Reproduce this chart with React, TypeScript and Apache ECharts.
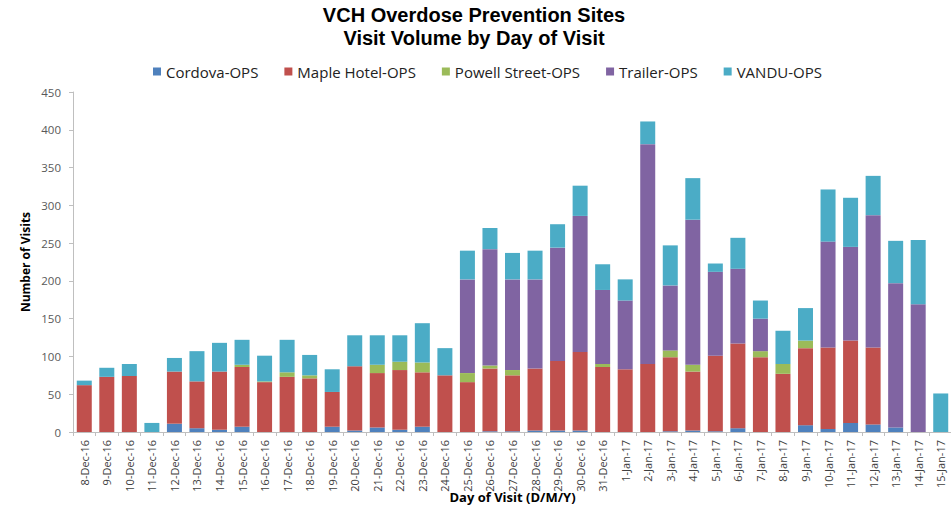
import React, { useEffect, useRef } from "react";
import * as echarts from "echarts";

const categories = [
  "8-Dec-16", "9-Dec-16", "10-Dec-16", "11-Dec-16", "12-Dec-16", "13-Dec-16", "14-Dec-16",
  "15-Dec-16", "16-Dec-16", "17-Dec-16", "18-Dec-16", "19-Dec-16", "20-Dec-16", "21-Dec-16",
  "22-Dec-16", "23-Dec-16", "24-Dec-16", "25-Dec-16", "26-Dec-16", "27-Dec-16", "28-Dec-16",
  "29-Dec-16", "30-Dec-16", "31-Dec-16", "1-Jan-17", "2-Jan-17", "3-Jan-17", "4-Jan-17",
  "5-Jan-17", "6-Jan-17", "7-Jan-17", "8-Jan-17", "9-Jan-17", "10-Jan-17", "11-Jan-17",
  "12-Jan-17", "13-Jan-17", "14-Jan-17", "15-Jan-17",
];

const cordova = [0, 0, 0, 0, 11, 5, 3, 7, 0, 0, 0, 7, 2, 6, 3, 7, 0, 0, 1, 1, 2, 2, 2, 0, 0, 0, 1, 2, 1, 5, 0, 0, 9, 4, 12, 10, 6, 0, 0];
const maple = [62, 73, 74, 0, 69, 62, 77, 79, 66, 73, 71, 46, 85, 72, 79, 72, 75, 66, 83, 74, 82, 92, 104, 86, 83, 90, 98, 78, 100, 112, 99, 77, 102, 108, 109, 102, 0, 0, 0];
const powell = [0, 0, 0, 0, 0, 0, 0, 3, 1, 6, 4, 0, 0, 11, 11, 13, 0, 12, 4, 7, 0, 0, 0, 4, 0, 0, 9, 9, 0, 0, 8, 13, 10, 0, 0, 0, 0, 0, 0];
const trailer = [0, 0, 0, 0, 0, 0, 0, 0, 0, 0, 0, 0, 0, 0, 0, 0, 0, 124, 154, 120, 118, 150, 180, 98, 91, 291, 86, 192, 111, 99, 43, 0, 0, 140, 124, 175, 191, 169, 0];
const vandu = [6, 12, 16, 12, 18, 40, 38, 33, 34, 43, 27, 30, 41, 39, 35, 52, 36, 38, 28, 35, 38, 31, 40, 34, 28, 30, 53, 55, 11, 41, 24, 44, 43, 69, 65, 52, 56, 85, 51];

const yTicks = [0, 50, 100, 150, 200, 250, 300, 350, 400, 450];

const seriesDefs = [
  { name: "Cordova-OPS", data: cordova, color: "#4F81BD" },
  { name: "Maple Hotel-OPS", data: maple, color: "#C0504D" },
  { name: "Powell Street-OPS", data: powell, color: "#9BBB59" },
  { name: "Trailer-OPS", data: trailer, color: "#8064A2" },
  { name: "VANDU-OPS", data: vandu, color: "#4BACC6" },
];

const FONT = "'Open Sans', 'Noto Sans', sans-serif";

const titleStyle = {
  fontFamily: "'Liberation Sans', Arial, sans-serif",
  fontSize: 20,
  lineHeight: 22,
  fontWeight: "bold",
  color: "#000000",
};

export default function App() {
  const ref = useRef<HTMLDivElement>(null);
  useEffect(() => {
    if (!ref.current) return;
    const chart = echarts.init(ref.current, null, { renderer: "svg" });
    chart.setOption({
      animation: false,
      backgroundColor: "#ffffff",
      title: [
        {
          text: "VCH Overdose Prevention Sites",
          left: 474,
          textAlign: "center",
          top: 4,
          padding: 0,
          textStyle: titleStyle,
        },
        {
          text: "Visit Volume by Day of Visit",
          left: 474,
          textAlign: "center",
          top: 27,
          padding: 0,
          textStyle: titleStyle,
        },
      ],
      legend: {
        top: 59,
        left: 148,
        itemWidth: 8,
        itemHeight: 8,
        itemGap: 26,
        icon: "rect",
        textStyle: { fontFamily: FONT, fontSize: 15, color: "#222222" },
        data: seriesDefs.map((s) => s.name),
      },
      grid: { left: 73, top: 92, width: 879, height: 340, outerBoundsMode: "none", containLabel: false },
      xAxis: {
        type: "category",
        data: categories,
        name: "Day of Visit (D/M/Y)",
        nameLocation: "middle",
        nameGap: 58,
        nameMoveOverlap: false,
        nameTextStyle: { fontFamily: FONT, fontSize: 13, fontWeight: "bold", color: "#000" },
        axisLine: { lineStyle: { color: "#BFBFBF" } },
        axisTick: { show: true, length: 4, lineStyle: { color: "#BFBFBF" } },
        axisLabel: {
          rotate: 90,
          interval: 0,
          fontFamily: FONT,
          fontSize: 11,
          color: "#404040",
          margin: 8,
        },
      },
      yAxis: {
        type: "value",
        min: 0,
        max: 450,
        interval: 50,
        name: "Number of Visits",
        nameLocation: "middle",
        nameGap: 42,
        nameMoveOverlap: false,
        nameTextStyle: { fontFamily: FONT, fontSize: 12, fontWeight: "bold", color: "#000" },
        axisLine: { show: true, lineStyle: { color: "#BFBFBF" } },
        axisTick: { show: true, length: 4, lineStyle: { color: "#BFBFBF" } },
        splitLine: { show: false },
        axisLabel: {
          fontFamily: FONT,
          fontSize: 11.5,
          color: "#595959",
          margin: 12,
          formatter: (v: number) => (yTicks.includes(v) ? String(v) : ""),
        },
      },
      series: seriesDefs.map((s) => ({
        name: s.name,
        type: "bar",
        stack: "total",
        barWidth: 15,
        data: s.data,
        itemStyle: { color: s.color },
      })),
    });
    return () => chart.dispose();
  }, []);
  return (
    <div
      ref={ref}
      style={{ position: "fixed", left: 0, top: 0, width: 951, height: 508 }}
    />
  );
}
